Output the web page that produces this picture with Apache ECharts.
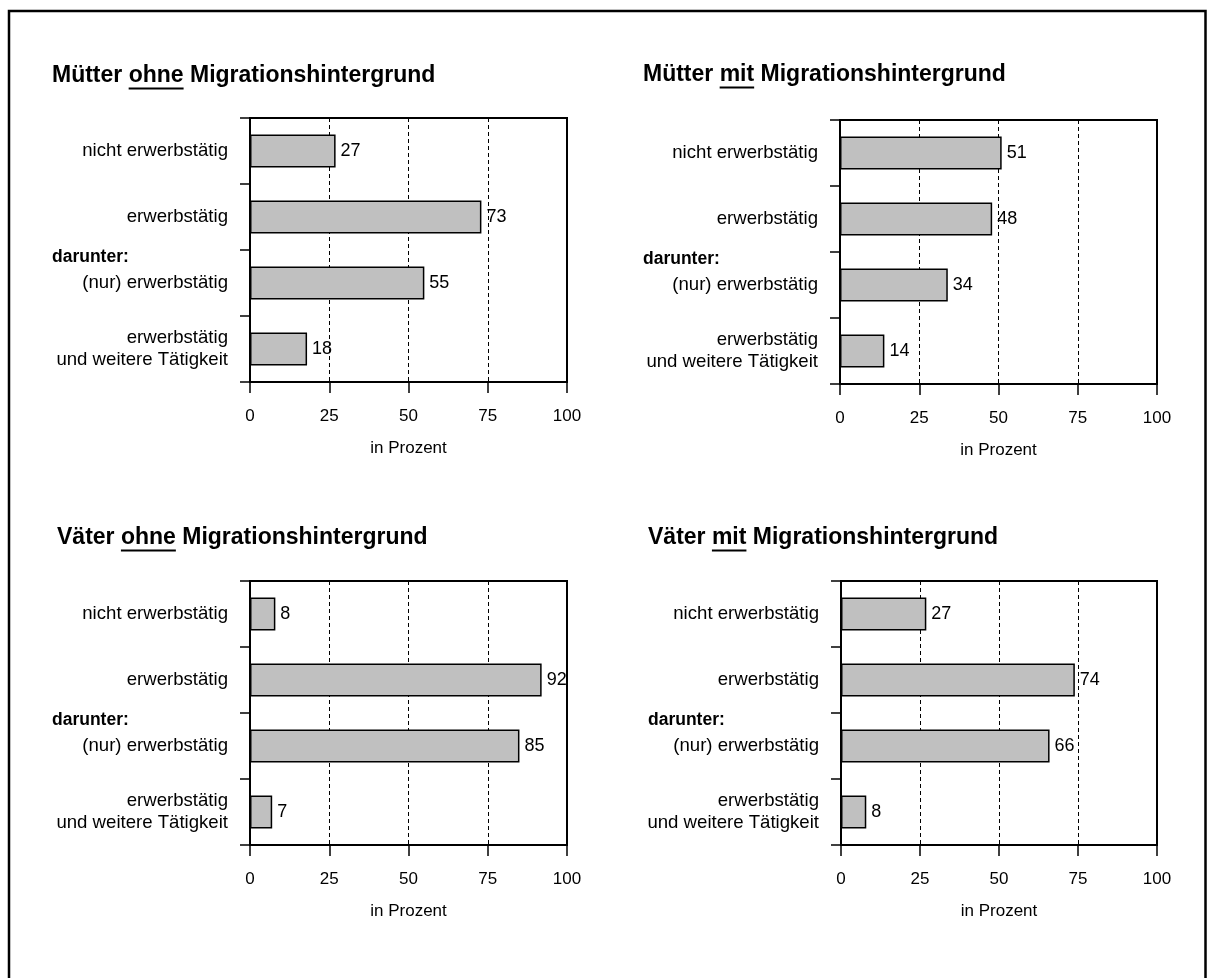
<!DOCTYPE html>
<html>
<head>
<meta charset="utf-8">
<script src="https://cdn.jsdelivr.net/npm/echarts@6/dist/echarts.min.js"></script>
<style>
html,body{margin:0;padding:0;background:#fff;}
#chart{width:1207px;height:978px;}
</style>
</head>
<body>
<div id="chart"></div>
<script>
// ---- data ----
const categories = ['nicht erwerbstätig', 'erwerbstätig', '(nur) erwerbstätig', 'erwerbstätig\nund weitere Tätigkeit'];
const muetterOhne = [27, 73, 55, 18];
const muetterMit = [51, 48, 34, 14];
const vaeterOhne = [8, 92, 85, 7];
const vaeterMit = [27, 74, 66, 8];
const titlePre = ['Mütter ', 'Mütter ', 'Väter ', 'Väter '];
const titleUnder = ['ohne', 'mit', 'ohne', 'mit'];
const titlePost = [' Migrationshintergrund', ' Migrationshintergrund', ' Migrationshintergrund', ' Migrationshintergrund'];
const subLabel = 'darunter:';
const axisName = 'in Prozent';
const xMin = 0, xMax = 100, xStep = 25;

// ---- layout ----
const FONT = '"Liberation Sans", Arial, sans-serif';
const panels = [
  {left: 250, top: 118, width: 317, height: 264, tx: 52, ty: 76, dx: 52},
  {left: 840, top: 120, width: 317, height: 264, tx: 643, ty: 75, dx: 643},
  {left: 250, top: 581, width: 317, height: 264, tx: 57, ty: 538, dx: 52},
  {left: 841, top: 581, width: 316, height: 264, tx: 648, ty: 538, dx: 648}
];
const seriesData = [muetterOhne, muetterMit, vaeterOhne, vaeterMit];

const ctx = document.createElement('canvas').getContext('2d');
const titleFont = 'bold 23px ' + FONT;
ctx.font = titleFont;

const grid = [], xAxis = [], yAxis = [], series = [], graphic = [];

graphic.push({
  type: 'rect', silent: true,
  shape: {x: 9, y: 11, width: 1196.5, height: 1000},
  style: {fill: 'none', stroke: '#000', lineWidth: 2.5}
});

panels.forEach((p, i) => {
  grid.push({
    left: p.left, top: p.top, width: p.width, height: p.height,
    show: true, borderColor: '#000', borderWidth: 2, backgroundColor: 'transparent',
    containLabel: false
  });
  xAxis.push({
    type: 'value', gridIndex: i, min: xMin, max: xMax, interval: xStep,
    axisLine: {show: true, lineStyle: {color: '#000', width: 2}},
    axisTick: {show: true, length: 11, inside: false, lineStyle: {color: '#000', width: 1.5}},
    axisLabel: {margin: 26, fontSize: 17, color: '#000', fontFamily: FONT},
    splitLine: {show: true, lineStyle: {color: '#000', width: 1, type: [4, 3]}},
    name: axisName, nameLocation: 'middle', nameGap: 58,
    nameTextStyle: {fontSize: 17, color: '#000', fontFamily: FONT}
  });
  yAxis.push({
    type: 'category', gridIndex: i, inverse: true, data: categories,
    axisLine: {show: true, onZero: false, lineStyle: {color: '#000', width: 2}},
    axisTick: {show: true, length: 10, inside: false, alignWithLabel: false, lineStyle: {color: '#000', width: 1.5}},
    axisLabel: {margin: 22, fontSize: 18.6, lineHeight: 22, color: '#000', fontFamily: FONT, align: 'right'},
    splitLine: {show: false}
  });
  series.push({
    type: 'bar', xAxisIndex: i, yAxisIndex: i, data: seriesData[i],
    barWidth: '50%',
    itemStyle: {color: '#c0c0c0', borderColor: '#000', borderWidth: 1.5},
    label: {show: true, position: 'right', distance: 5, fontSize: 18, color: '#000', fontFamily: FONT},
    silent: true, animation: false
  });
  // title
  graphic.push({
    type: 'text', silent: true, x: p.tx, y: p.ty,
    style: {
      text: titlePre[i] + titleUnder[i] + titlePost[i],
      font: titleFont, fill: '#000', textVerticalAlign: 'middle', textAlign: 'left'
    }
  });
  const preW = ctx.measureText(titlePre[i]).width;
  const undW = ctx.measureText(titleUnder[i]).width;
  graphic.push({
    type: 'line', silent: true,
    shape: {x1: p.tx + preW, y1: p.ty + 12.5, x2: p.tx + preW + undW, y2: p.ty + 12.5},
    style: {stroke: '#000', lineWidth: 2}
  });
  // "darunter:" sub label
  graphic.push({
    type: 'text', silent: true, x: p.dx, y: p.top + 139,
    style: {text: subLabel, font: 'bold 17.5px ' + FONT, fill: '#000', textVerticalAlign: 'middle', textAlign: 'left'}
  });
});

const chart = echarts.init(document.getElementById('chart'), null, {renderer: 'canvas'});
chart.setOption({
  animation: false,
  backgroundColor: '#fff',
  textStyle: {fontFamily: FONT},
  grid, xAxis, yAxis, series, graphic
});
</script>
</body>
</html>
